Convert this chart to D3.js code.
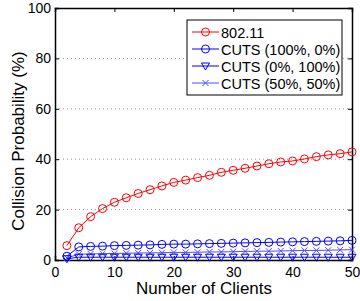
<!DOCTYPE html>
<html>
<head>
<meta charset="utf-8">
<script src="https://d3js.org/d3.v7.min.js"></script>
<style>
  body { margin: 0; background: #fff; }
  text { font-family: "Liberation Sans", Arial, sans-serif; }
</style>
</head>
<body>
<div class="vis"></div>
<script>
  // data
  var clients = [2, 4, 6, 8, 10, 12, 14, 16, 18, 20, 22, 24, 26, 28, 30, 32, 34, 36, 38, 40, 42, 44, 46, 48, 50];
  var dot11 = [5.7, 12.8, 17.2, 20.4, 22.9, 24.7, 26.4, 27.9, 29.4, 30.8, 31.7, 32.7, 33.6, 34.8, 35.6, 36.4, 37.3, 38.2, 38.9, 39.3, 40.1, 41.0, 41.7, 42.2, 42.9];
  var cuts100 = [1.5, 5.2, 5.4, 5.5, 5.7, 5.8, 5.9, 6.0, 6.2, 6.3, 6.3, 6.4, 6.5, 6.6, 6.7, 6.8, 6.9, 7.0, 7.1, 7.2, 7.3, 7.4, 7.5, 7.6, 7.8];
  var cuts0 = [0.5, 1.1, 1.1, 1.1, 1.1, 1.1, 1.1, 1.1, 1.1, 1.1, 1.1, 1.1, 1.1, 1.1, 1.1, 1.1, 1.1, 1.1, 1.1, 1.1, 1.1, 1.1, 1.1, 1.1, 1.1];
  var cuts50 = [0.8, 2.3, 2.4, 2.5, 2.6, 2.7, 2.8, 2.8, 2.9, 3.0, 3.0, 3.1, 3.2, 3.2, 3.3, 3.4, 3.5, 3.5, 3.6, 3.7, 3.8, 3.8, 3.9, 4.0, 4.1];
  var xTicks = [0, 10, 20, 30, 40, 50];
  var yTicks = [0, 20, 40, 60, 80, 100];

  var series = [
    { name: "802.11", values: dot11, color: "#ff0000", marker: "circle" },
    { name: "CUTS (100%, 0%)", values: cuts100, color: "#0000ff", marker: "circle" },
    { name: "CUTS (0%, 100%)", values: cuts0, color: "#0000ff", marker: "triangle" },
    { name: "CUTS (50%, 50%)", values: cuts50, color: "#4d4dff", marker: "cross" }
  ];

  var W = 360, H = 301;
  var pL = 55, pR = 352, pT = 8, pB = 260;

  var svg = d3.select('.vis').append('svg')
    .attr('width', W).attr('height', H);

  var x = d3.scaleLinear().domain([0, 50]).range([pL, pR]);
  var y = d3.scaleLinear().domain([0, 100]).range([pB, pT]);

  // grid
  svg.append('g').selectAll('line')
    .data(yTicks.slice(1, -1))
    .join('line')
    .attr('x1', pL).attr('x2', pR)
    .attr('y1', d => y(d)).attr('y2', d => y(d))
    .attr('stroke', '#999').attr('stroke-width', 1)
    .attr('stroke-dasharray', '1,3');

  // axes with inward ticks
  var fs = '14px';
  svg.append('g').attr('transform', 'translate(0,' + pB + ')')
    .call(d3.axisBottom(x).tickValues(xTicks).tickSize(-4).tickPadding(7));
  svg.append('g').attr('transform', 'translate(' + pL + ',0)')
    .call(d3.axisLeft(y).tickValues(yTicks).tickSize(-4).tickPadding(4));
  svg.append('g').attr('transform', 'translate(0,' + pT + ')')
    .call(d3.axisTop(x).tickValues(xTicks).tickSize(-4).tickFormat(''));
  svg.append('g').attr('transform', 'translate(' + pR + ',0)')
    .call(d3.axisRight(y).tickValues(yTicks).tickSize(-4).tickFormat(''));
  svg.selectAll('.domain').attr('stroke', '#000').attr('stroke-width', 1.5);
  svg.selectAll('.tick line').attr('stroke', '#000');
  svg.selectAll('.tick text').attr('font-size', fs).attr('fill', '#000')
    .style('font-family', '"Liberation Sans", Arial, sans-serif');

  // labels
  svg.append('text')
    .attr('x', 204).attr('y', 294)
    .attr('text-anchor', 'middle').attr('font-size', '17px')
    .text('Number of Clients');
  svg.append('text')
    .attr('transform', 'translate(24,141) rotate(-90)')
    .attr('text-anchor', 'middle').attr('font-size', '17px')
    .text('Collision Probability (%)');

  function drawMarker(g, type, color, cx, cy) {
    if (type === 'circle') {
      g.append('circle').attr('cx', cx).attr('cy', cy).attr('r', 4)
        .attr('fill', 'none').attr('stroke', color).attr('stroke-width', 1);
    } else if (type === 'triangle') {
      g.append('path')
        .attr('d', 'M' + (cx - 4) + ',' + (cy - 3) + 'L' + (cx + 4) + ',' + (cy - 3) + 'L' + cx + ',' + (cy + 4) + 'Z')
        .attr('fill', 'none').attr('stroke', color).attr('stroke-width', 1);
    } else {
      g.append('path')
        .attr('d', 'M' + (cx - 3) + ',' + (cy - 3) + 'L' + (cx + 3) + ',' + (cy + 3) + 'M' + (cx - 3) + ',' + (cy + 3) + 'L' + (cx + 3) + ',' + (cy - 3))
        .attr('fill', 'none').attr('stroke', color).attr('stroke-width', 1);
    }
  }

  var line = d3.line().x((d, i) => x(clients[i])).y(d => y(d));

  // draw bottom series first so red sits on top
  series.slice().reverse().forEach(function (s) {
    var g = svg.append('g');
    g.append('path').attr('d', line(s.values))
      .attr('fill', 'none').attr('stroke', s.color).attr('stroke-width', 1);
    s.values.forEach(function (v, i) {
      drawMarker(g, s.marker, s.color, x(clients[i]), y(v));
    });
  });

  // legend
  var lg = svg.append('g');
  lg.append('rect').attr('x', 187).attr('y', 20).attr('width', 155).attr('height', 75)
    .attr('fill', '#fff').attr('stroke', '#000').attr('stroke-width', 1);
  series.forEach(function (s, i) {
    var ly = 32 + i * 17;
    lg.append('line').attr('x1', 192).attr('x2', 219).attr('y1', ly).attr('y2', ly)
      .attr('stroke', s.color).attr('stroke-width', 1);
    drawMarker(lg, s.marker, s.color, 205.5, ly);
    lg.append('text').attr('x', 221).attr('y', ly + 5.5)
      .attr('font-size', '14.5px').text(s.name);
  });
</script>
</body>
</html>
